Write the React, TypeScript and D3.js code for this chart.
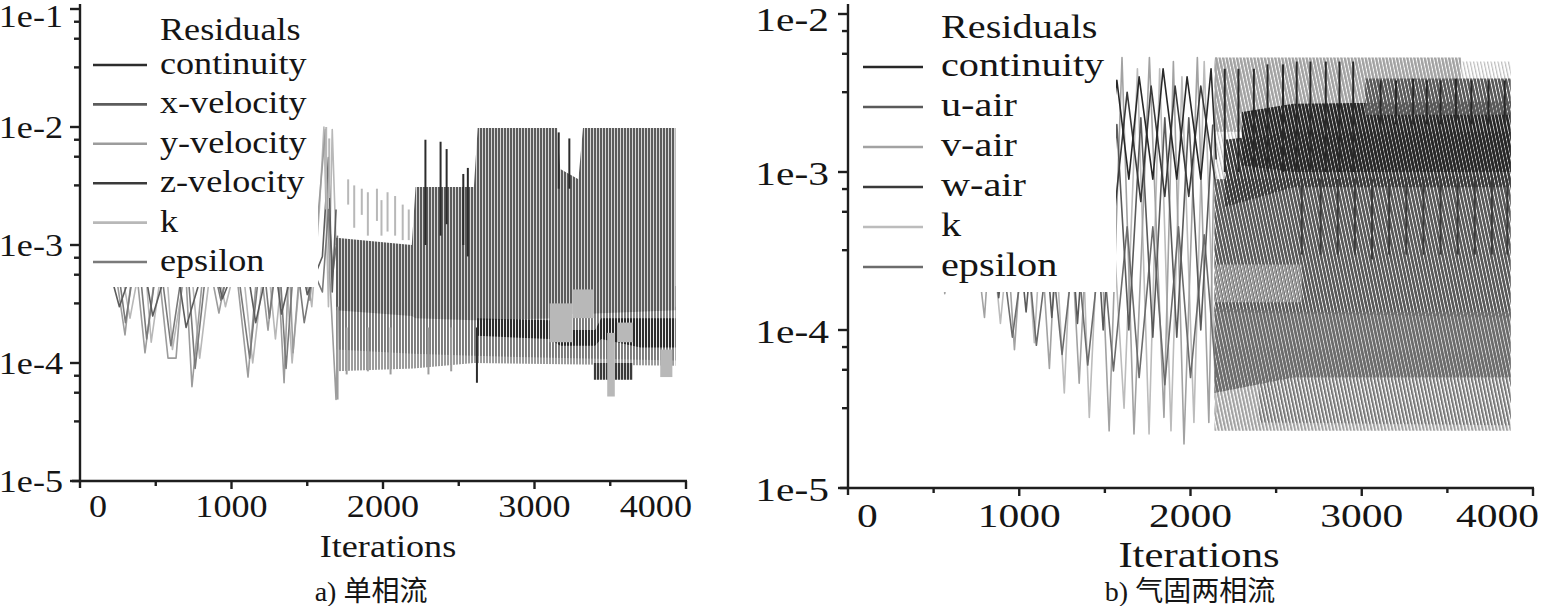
import React from "react";
import * as d3 from "d3";

// ---------------- axis data ----------------
const xTickValues = [0, 1000, 2000, 3000, 4000];
const xTickLabels = ["0", "1000", "2000", "3000", "4000"];
const xMinorValues = [500, 1500, 2500, 3500];
const leftYTickValues = [1e-5, 1e-4, 1e-3, 1e-2, 1e-1];
const leftYTickLabels = ["1e-5", "1e-4", "1e-3", "1e-2", "1e-1"];
const rightYTickValues = [1e-5, 1e-4, 1e-3, 1e-2];
const rightYTickLabels = ["1e-5", "1e-4", "1e-3", "1e-2"];
const minorMultipliers = [3.2, 5.6, 7.8];

// ---------------- series ----------------
const leftSeries = ["continuity", "x-velocity", "y-velocity", "z-velocity", "k", "epsilon"];
const rightSeries = ["continuity", "u-air", "v-air", "w-air", "k", "epsilon"];
const leftColors = ["#2c2c2c", "#5c5c5c", "#9c9c9c", "#3a3a3a", "#b8b8b8", "#7a7a7a"];
const rightColors = ["#282828", "#5a5a5a", "#a2a2a2", "#3a3a3a", "#bcbcbc", "#6c6c6c"];

// ---- left panel (single-phase) : [iteration, residual] vertices ----
const leftYVelTrace: [number, number][] = [[200,1.2e-3],[297,1.73e-4],[360,9e-4],[429,1.22e-4],[510,8e-4],[581,1.1e-4],[634,1.1e-4],[690,9e-4],[739,6.3e-5],[830,1e-3],[917,2.65e-4],[1010,1.1e-3],[1109,7.6e-5],[1180,9e-4],[1241,1.9e-4],[1300,1e-3],[1347,6.8e-5],[1380,8e-4],[1406,1.22e-4],[1460,9e-4],[1518,3.4e-4],[1560,1.2e-3],[1620,9.5e-3],[1650,5e-4],[1690,4.9e-5],[1705,3e-4]];
const leftEpsTrace: [number, number][] = [[230,1e-3],[300,2.2e-4],[380,1e-3],[440,1.6e-4],[520,9e-4],[600,1.4e-4],[700,1e-3],[760,9e-5],[850,1e-3],[930,3.4e-4],[1020,1e-3],[1120,1.1e-4],[1200,1e-3],[1250,2.4e-4],[1310,1e-3],[1360,9e-5],[1420,1e-3],[1480,2.2e-4],[1540,6e-4],[1600,4e-4],[1640,2e-3],[1670,6e-4],[1700,1.2e-3]];
const leftKTrace: [number, number][] = [[250,9e-4],[330,2.4e-4],[420,1e-3],[470,1.5e-4],[560,1e-3],[610,1.3e-4],[720,1e-3],[790,1.1e-4],[880,1e-3],[960,3e-4],[1060,1e-3],[1140,1e-4],[1230,1e-3],[1290,1.6e-4],[1350,1e-3],[1400,1e-4],[1470,1e-3],[1530,3e-4],[1580,2e-3],[1610,1e-2],[1640,3e-4],[1665,9.5e-3],[1690,1e-3]];
const leftXVelTrace: [number, number][] = [[150,1e-3],[260,3e-4],[400,1e-3],[480,2.5e-4],[620,1e-3],[700,2e-4],[860,1e-3],[940,3.5e-4],[1080,1e-3],[1160,2.2e-4],[1270,1e-3],[1330,2.6e-4],[1440,1e-3],[1500,3.8e-4],[1600,8e-4],[1640,5.5e-3],[1665,4e-4],[1690,2e-3]];
// oscillation envelopes: [iteration, upper, lower]
const leftXVelBand: [number, number, number][] = [[1690,1.15e-3,2.8e-4],[2190,1.0e-3,2.5e-4],[2215,3.1e-3,2.4e-4],[2600,3.1e-3,2.3e-4],[2625,9.8e-3,2.3e-4],[3150,9.8e-3,2.4e-4],[3170,4.4e-3,2.6e-4],[3290,3.6e-3,2.6e-4],[3320,9.8e-3,2.6e-4],[3930,9.8e-3,2.8e-4]];
const leftEpsBand: [number, number, number][] = [[1690,6e-4,1.3e-4],[2200,6e-4,1.2e-4],[2600,4.5e-4,1.15e-4],[3930,4.5e-4,1.05e-4]];
const leftYVelBand: [number, number, number][] = [[1690,3.5e-4,8.5e-5],[2200,3.2e-4,9e-5],[2600,3e-4,1e-4],[3930,3e-4,9.5e-5]];
const leftContBand: [number, number, number][] = [[2620,2.4e-4,1.7e-4],[3100,2.3e-4,1.6e-4],[3170,1.9e-4,1.4e-4],[3400,1.9e-4,1.4e-4],[3440,2.4e-4,1.6e-4],[3700,2.4e-4,1.35e-4],[3930,2.4e-4,1.35e-4]];
const leftZVelBand: [number, number, number][] = [[3390,1.0e-4,7.2e-5],[3650,1.0e-4,7.2e-5]];
const leftKSpikes: [number, number, number][] = [[1625,1e-2,2e-3],[1645,8e-3,2.5e-3],[1770,3.6e-3,2.2e-3],[1810,3.2e-3,1.4e-3],[1860,3.0e-3,1.8e-3],[1900,2.8e-3,1.2e-3],[1960,3.0e-3,1.6e-3],[1990,2.4e-3,1.2e-3],[2030,2.8e-3,1.3e-3],[2080,2.6e-3,1.2e-3],[2130,2.2e-3,1.1e-3],[2170,2.0e-3,1.1e-3]];
const leftYVelSpikes: [number, number, number][] = [[1700,3e-4,4.9e-5],[1760,2e-4,8e-5],[1900,2e-4,8.5e-5],[2050,2e-4,8e-5],[2300,2e-4,8e-5],[2450,2e-4,8.5e-5]];
const leftContSpikes: [number, number, number][] = [[2280,7.8e-3,1e-3],[2380,7.5e-3,1.2e-3],[2420,6.5e-3,1.5e-3],[2530,4e-3,1e-3],[2560,4.5e-3,8e-4],[2620,2e-4,6.8e-5],[3160,9e-3,3e-3],[3230,8e-3,3e-3]];
// light patches: [iterStart, iterEnd, upper, lower]
const leftKPatches: [number, number, number, number][] = [[3100,3250,3.2e-4,1.5e-4],[3250,3390,4.2e-4,2.4e-4],[3480,3530,1.8e-4,5.2e-5],[3545,3650,2.2e-4,1.5e-4],[3830,3910,1.3e-4,7.6e-5]];

// ---- right panel (gas-solid) ----
const rightVairTrace: [number, number][] = [[520,1.5e-3],[565,1.7e-4],[680,1.5e-3],[797,1.2e-4],[880,2.5e-3],[972,7.5e-5],[1075,3e-3],[1176,5.7e-5],[1260,3.5e-3],[1350,4.6e-5],[1440,4e-3],[1525,2.3e-5],[1600,5.3e-3],[1670,2.2e-5],[1760,5.3e-3],[1845,2.8e-5],[1900,5e-3],[1962,1.9e-5],[2040,5.3e-3],[2107,2.6e-5],[2150,5.3e-3]];
const rightKTrace: [number, number][] = [[600,1e-3],[700,2.2e-4],[790,1.5e-3],[890,1.1e-4],[1000,2e-3],[1088,8.3e-5],[1170,2.5e-3],[1263,4e-5],[1340,3e-3],[1409,2.8e-5],[1500,3.5e-3],[1612,3.2e-5],[1690,4.5e-3],[1758,2.2e-5],[1820,4.5e-3],[1886,2.3e-5],[1950,4e-3],[2020,2.6e-5],[2080,5e-3],[2150,3e-5]];
const rightContTrace: [number, number][] = [[1000,2e-3],[1060,5e-4],[1130,3e-3],[1200,6e-4],[1280,3.2e-3],[1350,7e-4],[1420,3.5e-3],[1500,8e-4],[1570,3.8e-3],[1640,9e-4],[1700,4e-3],[1780,9e-4],[1840,4.5e-3],[1920,9e-4],[1980,4e-3],[2060,9e-4],[2120,4.5e-3],[2150,1.2e-3]];
const rightWairTrace: [number, number][] = [[1050,1.5e-3],[1110,4.5e-4],[1190,2.5e-3],[1260,5e-4],[1330,2.8e-3],[1410,5.5e-4],[1480,3e-3],[1560,6e-4],[1630,3.2e-3],[1710,6.5e-4],[1770,3.5e-3],[1850,7e-4],[1910,3.5e-3],[1990,7e-4],[2060,3.5e-3],[2150,8e-4]];
const rightUairTrace: [number, number][] = [[800,8e-4],[880,1.6e-4],[960,1e-3],[1040,1.3e-4],[1120,1.2e-3],[1190,1.2e-4],[1270,1.5e-3],[1340,1.1e-4],[1420,1.8e-3],[1490,1e-4],[1570,2e-3],[1640,1e-4],[1710,2.2e-3],[1780,9e-5],[1850,2.2e-3],[1920,9e-5],[1990,2.2e-3],[2060,1e-4],[2130,2e-3]];
const rightEpsTrace: [number, number][] = [[900,3e-4],[960,9e-5],[1040,4e-4],[1100,8e-5],[1180,4e-4],[1250,7e-5],[1330,4e-4],[1400,6e-5],[1480,4e-4],[1550,5.5e-5],[1630,4.5e-4],[1700,5e-5],[1780,4.5e-4],[1850,4.5e-5],[1930,4.5e-4],[2000,5e-5],[2080,4e-4],[2150,5e-5]];
const rightKBand: [number, number, number][] = [[2140,5e-3,2.5e-5],[3870,5e-3,2.5e-5]];
const rightVairTopBand: [number, number, number][] = [[2140,5.3e-3,1.8e-3],[3580,5.3e-3,1.8e-3]];
const rightVairMidBand: [number, number, number][] = [[2140,2.6e-4,1.5e-4],[2650,2.6e-4,1.5e-4]];
const rightVairLowBand: [number, number, number][] = [[2140,8e-5,2.3e-5],[3870,7e-5,2.3e-5]];
const rightUairBand: [number, number, number][] = [[2140,9e-4,1.3e-4],[3870,9.5e-4,1.2e-4]];
const rightUairTopBand: [number, number, number][] = [[3020,3.9e-3,2.3e-3],[3870,3.9e-3,2.3e-3]];
const rightEpsBand: [number, number, number][] = [[2140,1.4e-4,4e-5],[2600,1.3e-4,5e-5],[3870,1.3e-4,5e-5]];
const rightEpsLowBand: [number, number, number][] = [[2400,5e-5,2.6e-5],[3870,5e-5,2.5e-5]];
const rightWairBand: [number, number, number][] = [[2200,1.6e-3,6e-4],[2600,1.8e-3,8e-4],[3870,1.8e-3,8e-4]];
const rightContBand: [number, number, number][] = [[2300,2.4e-3,1.1e-3],[2600,2.7e-3,1.0e-3],[3870,2.8e-3,1.0e-3]];
const rightContSpikes: [number, number, number][] = [[2200,4.5e-3,1e-3],[2280,4.5e-3,1e-3],[2370,4.5e-3,1e-3],[2450,4.8e-3,1e-3],[2540,4.8e-3,1e-3],[2620,5e-3,1e-3],[2700,5e-3,1e-3],[2790,5e-3,1e-3],[2870,5e-3,1e-3],[2950,5e-3,1e-3],[3110,3.8e-3,2e-3],[3200,3.8e-3,2e-3],[3300,3.9e-3,2e-3],[3380,3.8e-3,2e-3],[3460,3.8e-3,2e-3],[3550,3.9e-3,2e-3],[3640,3.8e-3,2e-3],[3740,3.8e-3,2e-3],[3835,3.8e-3,2e-3]];
const rightWairSpikes: [number, number, number][] = [[2650,9e-4,3e-4],[2760,9e-4,3e-4],[2860,9e-4,3e-4],[2960,9e-4,3e-4],[3060,9e-4,2.8e-4],[3160,9e-4,3e-4],[3260,9e-4,3e-4],[3360,9e-4,3e-4],[3460,9e-4,3e-4],[3560,9e-4,3e-4],[3660,9e-4,3e-4],[3760,9e-4,3e-4],[3850,9e-4,3e-4]];

type Layer = { kind: "band" | "trace" | "spikes" | "patches"; s: number; data: any; dens?: number };

const leftLayers: Layer[] = [
  { kind: "band", s: 2, data: leftYVelBand, dens: 0.67 },
  { kind: "band", s: 5, data: leftEpsBand, dens: 0.6 },
  { kind: "trace", s: 4, data: leftKTrace },
  { kind: "trace", s: 2, data: leftYVelTrace },
  { kind: "trace", s: 5, data: leftEpsTrace },
  { kind: "trace", s: 1, data: leftXVelTrace },
  { kind: "band", s: 1, data: leftXVelBand, dens: 0.75 },
  { kind: "spikes", s: 4, data: leftKSpikes },
  { kind: "spikes", s: 2, data: leftYVelSpikes },
  { kind: "band", s: 0, data: leftContBand, dens: 0.7 },
  { kind: "band", s: 3, data: leftZVelBand, dens: 0.75 },
  { kind: "spikes", s: 0, data: leftContSpikes },
  { kind: "patches", s: 4, data: leftKPatches },
];

const rightLayers: Layer[] = [
  { kind: "band", s: 4, data: rightKBand, dens: 0.35 },
  { kind: "band", s: 2, data: rightVairTopBand, dens: 0.7 },
  { kind: "band", s: 2, data: rightVairLowBand, dens: 0.6 },
  { kind: "trace", s: 4, data: rightKTrace },
  { kind: "trace", s: 2, data: rightVairTrace },
  { kind: "trace", s: 5, data: rightEpsTrace },
  { kind: "trace", s: 1, data: rightUairTrace },
  { kind: "trace", s: 3, data: rightWairTrace },
  { kind: "trace", s: 0, data: rightContTrace },
  { kind: "band", s: 1, data: rightUairBand, dens: 0.75 },
  { kind: "band", s: 2, data: rightVairMidBand, dens: 0.55 },
  { kind: "band", s: 5, data: rightEpsBand, dens: 0.8 },
  { kind: "band", s: 5, data: rightEpsLowBand, dens: 0.35 },
  { kind: "band", s: 3, data: rightWairBand, dens: 0.75 },
  { kind: "band", s: 0, data: rightContBand, dens: 0.8 },
  { kind: "band", s: 1, data: rightUairTopBand, dens: 0.75 },
  { kind: "spikes", s: 0, data: rightContSpikes },
  { kind: "spikes", s: 3, data: rightWairSpikes },
];

type Cfg = {
  id: string;
  xRange: [number, number];
  yDomain: [number, number];
  yRange: [number, number];
  yTicks: number[];
  yLabels: string[];
  names: string[];
  colors: string[];
  layers: Layer[];
  box: [number, number, number, number];
  lineX: [number, number];
  textX: number;
  titleY: number;
  entryY0: number;
  entryDy: number;
  entryDyText: number;
  legendFont: number;
  font: number;
  sx: number;
  yLabelX: number;
  yLabelDy: number;
  yLabelMinY: number;
  xLabelY: number;
  iterX: number;
  iterY: number;
  iterFont: number;
  caption: string;
  captionX: number;
  rotate: number;
};

const panels: Cfg[] = [
  {
    id: "L", xRange: [80, 686], yDomain: [1e-5, 1e-1], yRange: [481, 9],
    yTicks: leftYTickValues, yLabels: leftYTickLabels, names: leftSeries, colors: leftColors, layers: leftLayers,
    box: [84, 0, 234, 287], lineX: [93, 147], textX: 160, titleY: 40, entryY0: 65, entryDy: 39.4, entryDyText: 9,
    legendFont: 32, font: 32, sx: 1.13, yLabelX: 63, yLabelDy: 11, yLabelMinY: 27, xLabelY: 517,
    iterX: 388, iterY: 557, iterFont: 32, caption: "a) 单相流", captionX: 371, rotate: 0,
  },
  {
    id: "R", xRange: [848, 1533], yDomain: [1e-5, 1e-2], yRange: [488, 14],
    yTicks: rightYTickValues, yLabels: rightYTickLabels, names: rightSeries, colors: rightColors, layers: rightLayers,
    box: [851, 0, 265, 292], lineX: [863, 923], textX: 941, titleY: 38, entryY0: 67, entryDy: 40, entryDyText: 9,
    legendFont: 33, font: 34, sx: 1.22, yLabelX: 829, yLabelDy: 13, yLabelMinY: 31, xLabelY: 527,
    iterX: 1199, iterY: 567, iterFont: 35, caption: "b) 气固两相流", captionX: 1190, rotate: -12,
  },
];

const SERIF = "'Liberation Serif', 'Times New Roman', serif";
const CAPTION_FONT = "'Liberation Serif', 'Noto Sans CJK SC', serif";
const INK = "#151515";

function Panel({ c }: { c: Cfg }) {
  const x = d3.scaleLinear().domain([0, 4000]).range(c.xRange);
  const y = d3.scaleLog().domain(c.yDomain).range(c.yRange);
  const [x0, x1] = c.xRange;
  const yb = c.yRange[0];
  const area = d3.area<[number, number, number]>().x((d) => x(d[0])).y0((d) => y(d[2])).y1((d) => y(d[1]));
  const line = d3.line<[number, number]>().x((d) => x(d[0])).y((d) => y(d[1]));
  const minor: number[] = [];
  for (let i = 0; i < c.yTicks.length - 1; i++) for (const m of minorMultipliers) minor.push(c.yTicks[i] * m);

  const patKeys: { key: string; s: number; dens: number }[] = [];
  c.layers.forEach((l) => {
    if (l.kind === "band") {
      const key = `${c.id}-p${l.s}-${Math.round((l.dens || 0.7) * 100)}`;
      if (!patKeys.find((p) => p.key === key)) patKeys.push({ key, s: l.s, dens: l.dens || 0.7 });
    }
  });
  const period = c.rotate ? 3.4 : 3;

  const T = (s: string, tx: number, ty: number, anchor: string, fs: number, key?: string, family = SERIF, sx = c.sx) => (
    <text key={key} transform={`translate(${tx},${ty}) scale(${sx},1)`} textAnchor={anchor as any} fontSize={fs} fontFamily={family} fill={INK}>
      {s}
    </text>
  );

  return (
    <g>
      <defs>
        <clipPath id={`${c.id}-clip`}>
          <rect x={x0 + 1} y={0} width={x1 - x0} height={yb - 1} />
        </clipPath>
        {patKeys.map((p) => (
          <pattern key={p.key} id={p.key} patternUnits="userSpaceOnUse" width={period} height={40}
            patternTransform={c.rotate ? `rotate(${c.rotate})` : undefined}>
            <rect x={0} y={0} width={period * p.dens} height={40} fill={c.colors[p.s]} />
          </pattern>
        ))}
      </defs>
      <g clipPath={`url(#${c.id}-clip)`}>
        {c.layers.map((l, i) => {
          const col = c.colors[l.s];
          if (l.kind === "band") {
            const key = `${c.id}-p${l.s}-${Math.round((l.dens || 0.7) * 100)}`;
            return <path key={i} d={area(l.data) || ""} fill={`url(#${key})`} />;
          }
          if (l.kind === "trace") {
            return <path key={i} d={line(l.data) || ""} fill="none" stroke={col} strokeWidth={1.6} strokeLinejoin="round" />;
          }
          if (l.kind === "spikes") {
            return (
              <g key={i} stroke={col} strokeWidth={2}>
                {(l.data as [number, number, number][]).map((d, j) => (
                  <line key={j} x1={x(d[0])} x2={x(d[0])} y1={y(d[1])} y2={y(d[2])} />
                ))}
              </g>
            );
          }
          return (
            <g key={i} fill={col}>
              {(l.data as [number, number, number, number][]).map((d, j) => (
                <rect key={j} x={x(d[0])} y={y(d[2])} width={x(d[1]) - x(d[0])} height={y(d[3]) - y(d[2])} />
              ))}
            </g>
          );
        })}
      </g>

      {/* legend */}
      <rect x={c.box[0]} y={c.box[1]} width={c.box[2]} height={c.box[3]} fill="#fff" />
      {T("Residuals", c.textX, c.titleY, "start", c.legendFont)}
      {c.names.map((n, i) => {
        const ly = c.entryY0 + i * c.entryDy;
        return (
          <g key={n}>
            <line x1={c.lineX[0]} x2={c.lineX[1]} y1={ly} y2={ly} stroke={c.colors[i]} strokeWidth={2.6} />
            {T(n, c.textX, ly + c.entryDyText, "start", c.legendFont)}
          </g>
        );
      })}

      {/* axes */}
      <g stroke="#1e1e1e" strokeWidth={2.4}>
        <line x1={x0} x2={x0} y1={4} y2={yb + 7} />
        <line x1={x0 - 8} x2={x1 + 1} y1={yb} y2={yb} />
        {c.yTicks.map((v) => (
          <line key={"yM" + v} x1={x0 - 10} x2={x0} y1={y(v)} y2={y(v)} />
        ))}
        {minor.map((v) => (
          <line key={"ym" + v} x1={x0 - 6} x2={x0} y1={y(v)} y2={y(v)} />
        ))}
        {xTickValues.slice(1).map((v) => (
          <line key={"xM" + v} x1={x(v)} x2={x(v)} y1={yb} y2={yb + 8} />
        ))}
        {xMinorValues.map((v) => (
          <line key={"xm" + v} x1={x(v)} x2={x(v)} y1={yb} y2={yb + 5} />
        ))}
      </g>
      {c.yTicks.map((v, i) => T(c.yLabels[i], c.yLabelX, Math.max(y(v) + c.yLabelDy, c.yLabelMinY), "end", c.font, "yl" + v))}
      {xTickValues.map((v, i) => {
        if (i === 0) return T(xTickLabels[i], x0 + 9, c.xLabelY, "start", c.font, "xl" + v);
        if (i === xTickValues.length - 1) return T(xTickLabels[i], x(v) + 6, c.xLabelY, "end", c.font, "xl" + v);
        return T(xTickLabels[i], x(v), c.xLabelY, "middle", c.font, "xl" + v);
      })}
      {T("Iterations", c.iterX, c.iterY, "middle", c.iterFont)}
      {T(c.caption, c.captionX, 601, "middle", 28, undefined, CAPTION_FONT, 1)}
    </g>
  );
}

export default function App() {
  return (
    <div style={{ position: "absolute", left: 0, top: 0, width: 1544, height: 606, background: "#fff" }}>
      <svg width={1544} height={606} viewBox="0 0 1544 606" style={{ display: "block" }}>
        <rect x={0} y={0} width={1544} height={606} fill="#fff" />
        {panels.map((c) => (
          <Panel key={c.id} c={c} />
        ))}
      </svg>
    </div>
  );
}
